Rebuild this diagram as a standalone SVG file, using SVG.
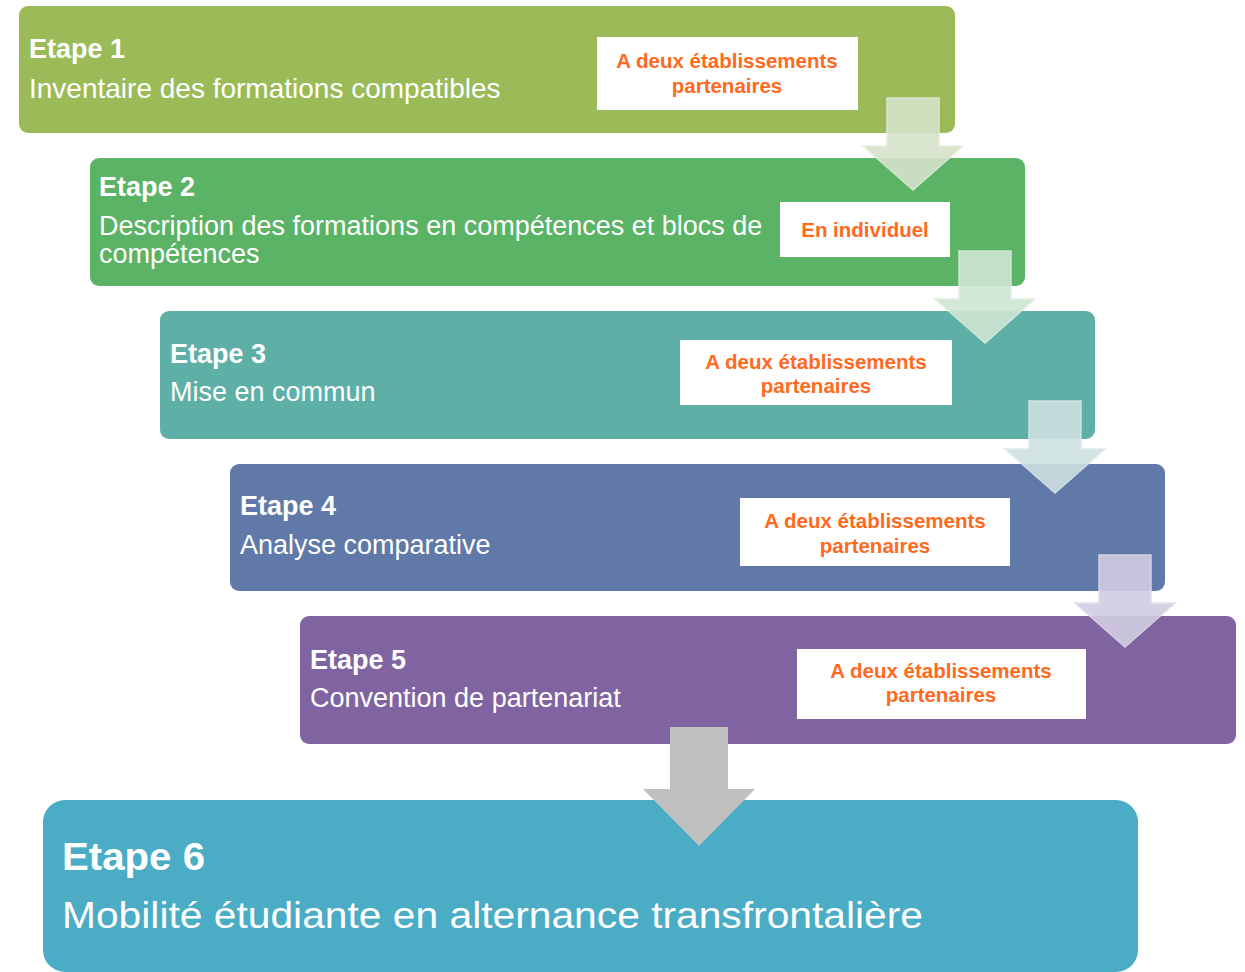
<svg xmlns="http://www.w3.org/2000/svg" width="1245" height="972" viewBox="0 0 1245 972">
<style>
.head{font-family:"Liberation Sans",Arial,sans-serif;font-weight:bold;font-size:27px;fill:#fff}
.desc{font-family:"Liberation Sans",Arial,sans-serif;font-size:27px;fill:#fff}
.lab{fill:#fff}
.lt{font-family:"Liberation Sans",Arial,sans-serif;font-weight:bold;font-size:20.5px;fill:#FF6A1E;text-anchor:middle}
.arr{stroke-width:1.5;opacity:0.9}
</style>
<rect width="1245" height="972" fill="#fff"/>
<g id="step1">
<rect x="19" y="6" width="936" height="127" rx="9" fill="#9BBB59"/>
<text class="head" x="29" y="58">Etape 1</text>
<text class="desc" x="29" y="98" style="font-size:28px">Inventaire des formations compatibles</text>
<rect class="lab" x="597" y="37" width="261" height="73"/>
<text class="lt" x="727" y="68">A deux établissements</text>
<text class="lt" x="727" y="93">partenaires</text>
</g>
<g id="step2">
<rect x="90" y="158" width="935" height="128" rx="9" fill="#5BB366"/>
<text class="head" x="99" y="196">Etape 2</text>
<text class="desc" x="99" y="235">Description des formations en compétences et blocs de</text>
<text class="desc" x="99" y="263">compétences</text>
<rect class="lab" x="780" y="202" width="170" height="55"/>
<text class="lt" x="865" y="237">En individuel</text>
</g>
<g id="step3">
<rect x="160" y="311" width="935" height="128" rx="9" fill="#5EAFA6"/>
<text class="head" x="170" y="363">Etape 3</text>
<text class="desc" x="170" y="401">Mise en commun</text>
<rect class="lab" x="680" y="340" width="272" height="65"/>
<text class="lt" x="816" y="369">A deux établissements</text>
<text class="lt" x="816" y="393">partenaires</text>
</g>
<g id="step4">
<rect x="230" y="464" width="935" height="127" rx="9" fill="#6079A8"/>
<text class="head" x="240" y="515">Etape 4</text>
<text class="desc" x="240" y="554">Analyse comparative</text>
<rect class="lab" x="740" y="498" width="270" height="68"/>
<text class="lt" x="875" y="528">A deux établissements</text>
<text class="lt" x="875" y="553">partenaires</text>
</g>
<g id="step5">
<rect x="300" y="616" width="936" height="128" rx="9" fill="#8064A2"/>
<text class="head" x="310" y="669">Etape 5</text>
<text class="desc" x="310" y="707">Convention de partenariat</text>
<rect class="lab" x="797" y="649" width="289" height="70"/>
<text class="lt" x="941" y="678">A deux établissements</text>
<text class="lt" x="941" y="702">partenaires</text>
</g>
<g id="step6">
<rect x="43" y="800" width="1095" height="172" rx="22" fill="#4BACC6"/>
<text class="head" x="62" y="870" style="font-size:39px" textLength="143" lengthAdjust="spacingAndGlyphs">Etape 6</text>
<text class="desc" x="62" y="928" style="font-size:37.5px" textLength="861" lengthAdjust="spacingAndGlyphs">Mobilité étudiante en alternance transfrontalière</text>
</g>
<g id="connectors">
<path class="arr" d="M887 98H939V146H963L913 190L863 146H887Z" fill="#D5E3CA" stroke="#E2ECD9"/>
<path class="arr" d="M959 251H1011V299H1035L985 343L935 299H959Z" fill="#CFE5D3" stroke="#DDEDE0"/>
<path class="arr" d="M1029 401H1081V449H1105L1055 493L1005 449H1029Z" fill="#CDE0E1" stroke="#DCE8EA"/>
<path class="arr" d="M1099 555H1151V603H1175L1125 647L1075 603H1099Z" fill="#D0CDE2" stroke="#DEDBEA"/>
<path d="M670 727H728V789H755L699 846L643 789H670Z" fill="#BFBFBF"/>
</g>
</svg>
